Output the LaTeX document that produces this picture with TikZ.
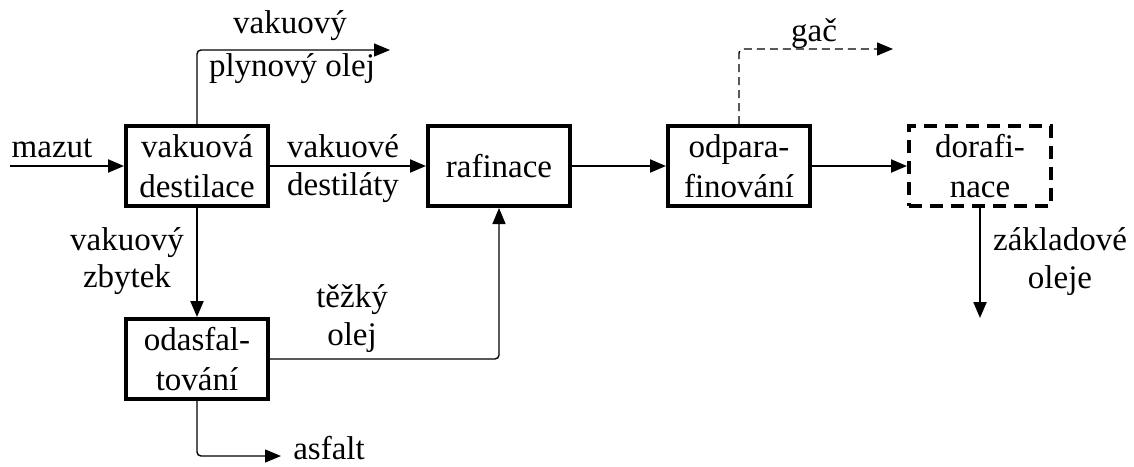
\documentclass[tikz,border=0pt]{standalone}
\usepackage{fontspec}
\setmainfont{Liberation Serif}
\usetikzlibrary{arrows.meta}

\begin{document}
\begin{tikzpicture}[x=0.5pt,y=-0.5pt,>={Triangle[length=8pt,width=6.5pt]},
  font=\fontsize{16.5}{20}\selectfont,
  box/.style={draw,line width=2pt,minimum width=71pt,minimum height=40pt,inner sep=0pt,align=center},
  lbl/.style={align=center,inner sep=0pt,anchor=base},
  flow/.style={->,line width=1.1pt},
  side/.style={->,line width=0.7pt,rounded corners=2pt}]
\useasboundingbox (0,0) rectangle (1134,466);
\node[box] (dest) at (197,166) {vakuová\\destilace};
\node[box] (raf) at (499,166) {rafinace};
\node[box] (odpar) at (739,166) {odpara-\\finování};
\node[box,dash pattern=on 6.5pt off 4pt] (doraf) at (980,166) {dorafi-\\nace};
\node[box] (odasf) at (197,359) {odasfal-\\tování};
% volne konce
\coordinate (vstup) at (10,166);
\coordinate (vpo) at (390,50);
\coordinate (gac) at (893,49);
\coordinate (zakl) at (980,318);
\coordinate (asf) at (281,456);
% toky
\draw[flow] (vstup) -- (dest);
\draw[flow] (dest) -- (raf);
\draw[flow] (raf) -- (odpar);
\draw[flow] (odpar) -- (doraf);
\draw[flow] (dest) -- (odasf);
\draw[flow] (doraf) -- (zakl);
\draw[side] (dest.north) |- (vpo);
\draw[side,dash pattern=on 4pt off 2.5pt] (odpar.north) |- (gac);
\draw[side] (odasf.south) |- (asf);
\draw[side] (odasf.east) -| (raf.south);
% popisky
\node[lbl] at (52,157) {mazut};
\node[lbl] at (343,157) {vakuové};
\node[lbl] at (343,195) {destiláty};
\node[lbl] at (290,33) {vakuový};
\node[lbl] at (292,76) {plynový olej};
\node[lbl] at (814,41) {gač};
\node[lbl] at (127,250) {vakuový};
\node[lbl] at (127,287) {zbytek};
\node[lbl] at (352,307) {těžký};
\node[lbl] at (352,345) {olej};
\node[lbl] at (329,459) {asfalt};
\node[lbl] at (1060,250) {základové};
\node[lbl] at (1060,288) {oleje};
\end{tikzpicture}
\end{document}
